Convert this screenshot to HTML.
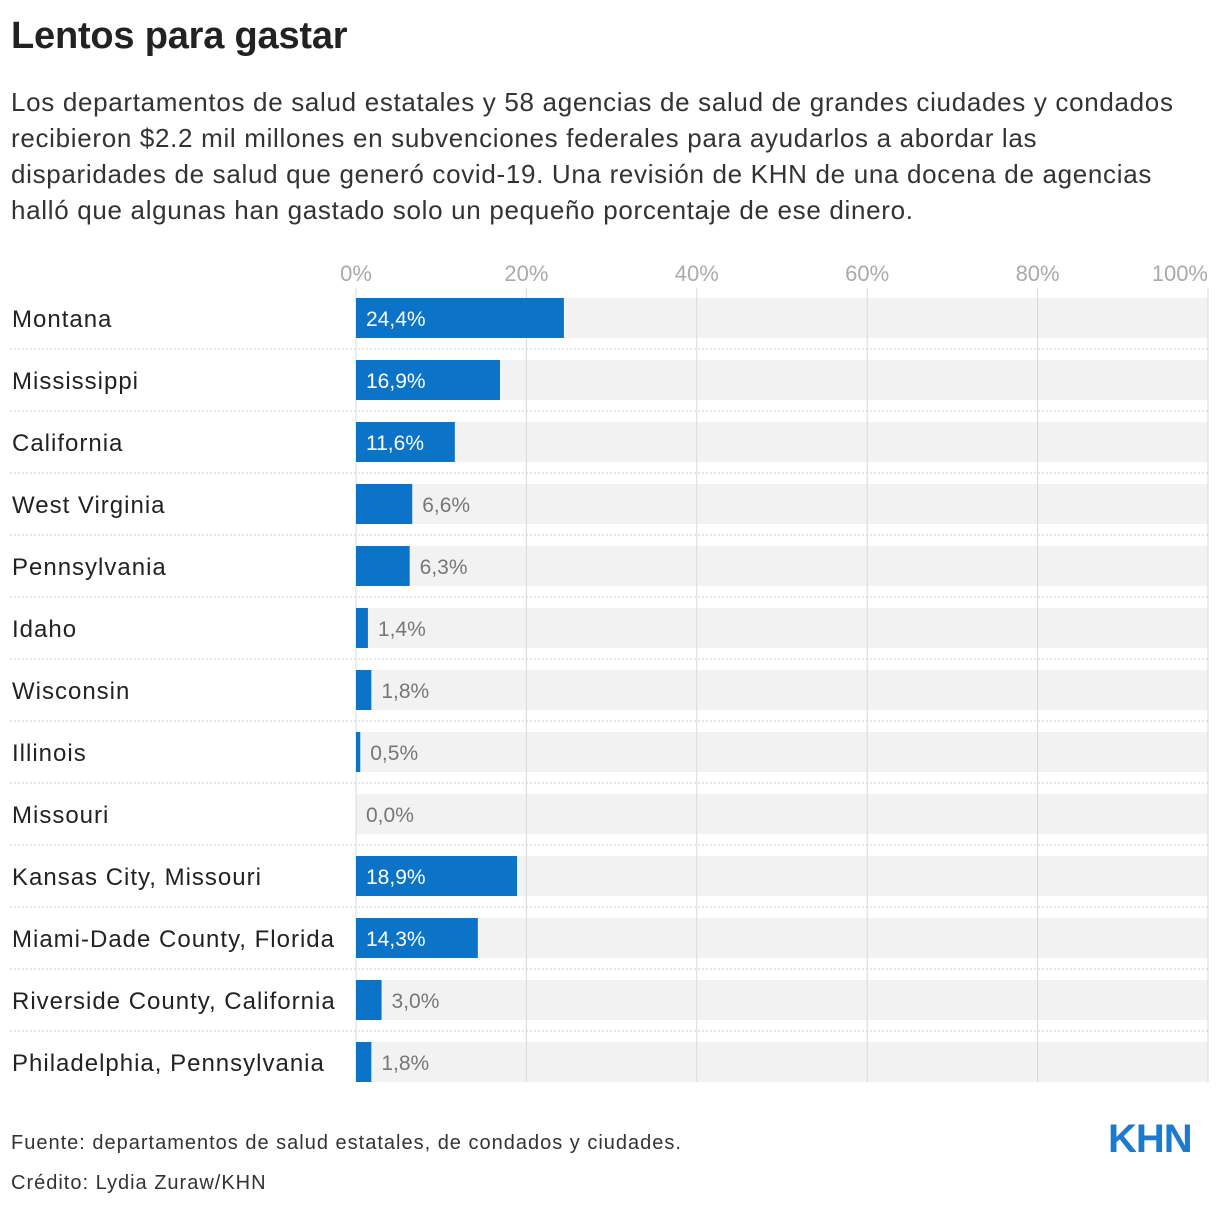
<!DOCTYPE html>
<html><head><meta charset="utf-8">
<style>
body{margin:0;width:1220px;height:1208px;background:#fff;font-family:"Liberation Sans",sans-serif;color:#222;position:relative;overflow:hidden}
#title{position:absolute;left:11px;top:15px;font-size:38px;font-weight:bold;margin:0;letter-spacing:-0.2px}
#sub{position:absolute;left:11px;top:84px;width:1210px;font-size:26px;line-height:36px;color:#333;white-space:nowrap;letter-spacing:0.68px}
.foot{position:absolute;left:11px;font-size:20px;color:#333;letter-spacing:1px}
#logo{position:absolute;left:1108px;top:1117px;font-size:40px;font-weight:bold;color:#1a7bd1;letter-spacing:-1px;transform-origin:left top;transform:scaleX(1.0)}
</style></head><body>
<h1 id="title">Lentos para gastar</h1>
<div id="sub">Los departamentos de salud estatales y 58 agencias de salud de grandes ciudades y condados<br>recibieron $2.2 mil millones en subvenciones federales para ayudarlos a abordar las<br>disparidades de salud que generó covid-19. Una revisión de KHN de una docena de agencias<br>halló que algunas han gastado solo un pequeño porcentaje de ese dinero.</div>
<svg id="chart" width="1220" height="1208" style="position:absolute;left:0;top:0"></svg>
<div class="foot" style="top:1132px">Fuente: departamentos de salud estatales, de condados y ciudades.</div>
<div class="foot" style="top:1172px">Crédito: Lydia Zuraw/KHN</div>
<div id="logo">KHN</div>
<script>
const categories=["Montana","Mississippi","California","West Virginia","Pennsylvania","Idaho","Wisconsin","Illinois","Missouri","Kansas City, Missouri","Miami-Dade County, Florida","Riverside County, California","Philadelphia, Pennsylvania"];
const values=[24.4,16.9,11.6,6.6,6.3,1.4,1.8,0.5,0.0,18.9,14.3,3.0,1.8];
const ticks=[0,20,40,60,80,100];
const tickLabels=["0%","20%","40%","60%","80%","100%"];
const svg=document.getElementById('chart');
const NS="http://www.w3.org/2000/svg";
const x0=356,x1=1208,top0=298,pitch=62,bh=40;
const xs=v=>x0+(x1-x0)*v/100;
const ys=i=>top0+i*pitch;
function mk(t,a){const e=document.createElementNS(NS,t);for(const k in a)e.setAttribute(k,a[k]);svg.appendChild(e);return e;}
categories.forEach((c,i)=>{
  const bg=mk('rect',{x:x0,y:ys(i),width:x1-x0,height:bh,fill:'#f2f2f2'});
  
  
});
ticks.forEach((t,j)=>{
  const l=mk('line',{x1:xs(t),x2:xs(t),y1:top0-10,y2:ys(categories.length-1)+bh,stroke:'#d8d8d8','stroke-width':1});
  
  
  const anchor=j==ticks.length-1?'end':'middle';
  const tx=mk('text',{x:xs(t),y:281,'text-anchor':anchor,'font-size':22,fill:'#aaa','font-family':'Liberation Sans,sans-serif'});
  tx.textContent=tickLabels[j];
  
  
});
categories.forEach((c,i)=>{
  const y=ys(i);
  if(i>0){const d=mk('line',{x1:10,x2:x1,y1:y-11,y2:y-11,stroke:'#ccc','stroke-dasharray':'2,2'});
    
    }
  const lab=mk('text',{x:12,y:y+29,'font-size':24,fill:'#222','font-family':'Liberation Sans,sans-serif','letter-spacing':'1'});
  lab.textContent=c;
  
  
  const w=xs(values[i])-x0;
  const b=mk('rect',{x:x0,y:y,width:w,height:bh,fill:'#0b73c8'});
  
  
  const inside=values[i]>=10;
  const vt=mk('text',{x:inside?x0+10:x0+w+10,y:y+28,'font-size':21,fill:inside?'#fff':'#777','font-family':'Liberation Sans,sans-serif'});
  vt.textContent=values[i].toFixed(1).replace('.',',')+'%';
  
  
});
</script>
</body></html>
